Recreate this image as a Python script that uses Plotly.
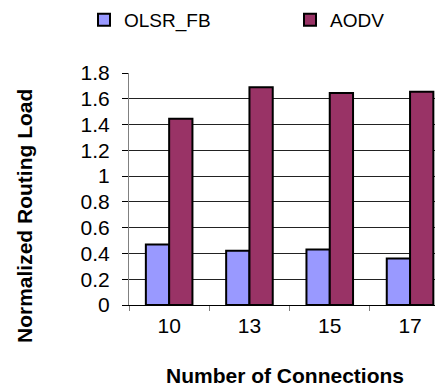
import plotly.graph_objects as go

categories = ["10", "13", "15", "17"]
olsr_fb = [0.47, 0.42, 0.43, 0.36]
aodv = [1.445, 1.69, 1.645, 1.655]
y_ticks = [0, 0.2, 0.4, 0.6, 0.8, 1, 1.2, 1.4, 1.6, 1.8]
y_tick_labels = ["0", "0.2", "0.4", "0.6", "0.8", "1", "1.2", "1.4", "1.6", "1.8"]

FONT = "Arial, 'Liberation Sans', sans-serif"
W, H = 443, 390
OFF = 8  # page body margin
PLOT_L, PLOT_T, PLOT_W, PLOT_H = 129 - OFF, 73 - OFF, 322, 232
CAT_PX = 80.3


def px_x(p):
    return (p - OFF - PLOT_L) / PLOT_W


def px_y(p):
    return (PLOT_T + PLOT_H - (p - OFF)) / PLOT_H


def cx(p):
    return (p - OFF) / W


def cy(p):
    return 1 - (p - OFF) / H


fig = go.Figure()
fig.add_trace(go.Bar(name="OLSR_FB", x=categories, y=olsr_fb, legend="legend",
                     showlegend=True,
                     marker=dict(color="#9999FF", line=dict(color="#000000", width=2))))
fig.add_trace(go.Bar(name="AODV", x=categories, y=aodv, legend="legend2",
                     showlegend=True,
                     marker=dict(color="#993366", line=dict(color="#000000", width=2))))

legend_common = dict(orientation="h", xanchor="left", yanchor="middle",
                     xref="container", yref="container",
                     font=dict(size=19, family=FONT), itemclick=False,
                     bgcolor="rgba(0,0,0,0)", borderwidth=0)

fig.update_layout(
    width=W, height=H,
    showlegend=True,
    margin=dict(l=PLOT_L, r=W - PLOT_L - PLOT_W, t=PLOT_T, b=H - PLOT_T - PLOT_H,
                autoexpand=False),
    paper_bgcolor="white", plot_bgcolor="white",
    font=dict(family=FONT, color="#000000"),
    barmode="group", bargap=0.42, bargroupgap=0,
    legend=dict(x=cx(84), y=cy(20), **legend_common),
    legend2=dict(x=cx(290), y=cy(20), **legend_common),
    xaxis=dict(type="category", range=[-0.5, -0.5 + PLOT_W / CAT_PX], tickson="boundaries",
               ticks="outside", ticklen=5, tickcolor="#808080",
               showline=True, linecolor="#000000", linewidth=1,
               tickfont=dict(size=21, family=FONT), showgrid=False,
               ticklabelstandoff=2),
    yaxis=dict(range=[0, 1.8], tickvals=y_ticks, ticktext=y_tick_labels,
               ticks="outside", ticklen=6, tickcolor="#000000",
               showline=True, linecolor="#808080", linewidth=1,
               showgrid=True, gridcolor="#222222", gridwidth=1,
               zeroline=False, tickfont=dict(size=21, family=FONT),
               ticklabelstandoff=8),
    annotations=[
        dict(text="<b>Number of Connections</b>", xref="paper", yref="paper",
             x=px_x(285), y=px_y(375), xanchor="center", yanchor="middle",
             showarrow=False, font=dict(size=21, family=FONT)),
        dict(text="<b>Normalized Routing Load</b>", xref="paper", yref="paper",
             x=px_x(24), y=px_y(216), xanchor="center", yanchor="middle",
             textangle=-90, showarrow=False, font=dict(size=21, family=FONT)),
    ],
)

fig.write_html("out.html")
